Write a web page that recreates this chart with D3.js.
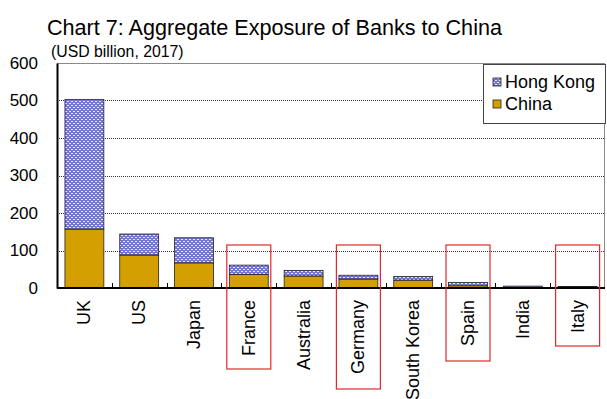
<!DOCTYPE html>
<html>
<head>
<meta charset="utf-8">
<script src="https://cdn.jsdelivr.net/npm/d3@7"></script>
<style>
  body { margin: 0; background: #fff; }
  svg { font-family: "Liberation Sans", Arial, sans-serif; }
</style>
</head>
<body>
<div class="canvas"></div>
<script>
// data
const countries = ["UK", "US", "Japan", "France", "Australia", "Germany", "South Korea", "Spain", "India", "Italy"]
const china = [157, 88, 67, 36, 32, 24, 21, 6, 1, 3]
const hongKong = [346, 56, 67, 25, 15, 10, 10, 9, 4, 1]
const yTicks = [0, 100, 200, 300, 400, 500, 600]
const highlighted = ["France", "Germany", "Spain", "Italy"]

const svg = d3.select(".canvas").append("svg")
    .attr("width", 607)
    .attr("height", 399)

const margin = { top: 63, right: 2, bottom: 111, left: 57 }
const graphWidth = 607 - margin.left - margin.right
const graphHeight = 399 - margin.top - margin.bottom

// hatch pattern for Hong Kong
const pat = svg.append("defs").append("pattern")
    .attr("id", "hk")
    .attr("width", 4)
    .attr("height", 4)
    .attr("patternUnits", "userSpaceOnUse")
pat.append("rect").attr("width", 4).attr("height", 4).attr("fill", "#7276cc")
pat.append("rect").attr("x", 0).attr("y", 0).attr("width", 2).attr("height", 1).attr("fill", "#e6e8ff")
pat.append("rect").attr("x", 2).attr("y", 2).attr("width", 2).attr("height", 1).attr("fill", "#e6e8ff")

const graph = svg.append("g")
    .attr("transform", `translate(${margin.left}, ${margin.top})`)

const x = d3.scaleBand()
    .domain(countries)
    .range([0, graphWidth])
    .paddingInner(0.29)
    .paddingOuter(0.145)
const y = d3.scaleLinear()
    .domain([0, 600])
    .range([graphHeight, 0])

// grid
graph.selectAll(".grid")
    .data(yTicks.filter(d => d > 0 && d < 600))
    .enter()
    .append("line")
    .attr("x1", 0)
    .attr("x2", graphWidth)
    .attr("y1", d => Math.round(y(d)) + 0.5)
    .attr("y2", d => Math.round(y(d)) + 0.5)
    .attr("stroke", "#333")
    .attr("stroke-dasharray", "1,1")

// frame
graph.append("rect")
    .attr("x", 0.5)
    .attr("y", 0.5)
    .attr("width", graphWidth - 1)
    .attr("height", graphHeight)
    .attr("fill", "none")
    .attr("stroke", "#888")

// bars
graph.selectAll(".china")
    .data(countries)
    .enter()
    .append("rect")
    .attr("x", d => x(d))
    .attr("y", (d, i) => y(china[i]))
    .attr("width", x.bandwidth())
    .attr("height", (d, i) => graphHeight - y(china[i]))
    .attr("fill", "#d49f00")
    .attr("stroke", "#222")
    .attr("stroke-width", 0.8)
graph.selectAll(".hk")
    .data(countries)
    .enter()
    .append("rect")
    .attr("x", d => x(d))
    .attr("y", (d, i) => y(china[i] + hongKong[i]))
    .attr("width", x.bandwidth())
    .attr("height", (d, i) => y(china[i]) - y(china[i] + hongKong[i]))
    .attr("fill", "url(#hk)")
    .attr("stroke", "#222")
    .attr("stroke-width", 0.8)

// axes
const yAxis = d3.axisLeft(y).tickValues(yTicks).tickSize(0).tickPadding(19)
const yAxisGroup = graph.append("g").call(yAxis)
yAxisGroup.select(".domain").attr("stroke", "#000").attr("stroke-width", 2)
yAxisGroup.selectAll("text")
    .attr("font-size", 17)
    .attr("font-family", "Liberation Sans, Arial, sans-serif")
    .attr("fill", "#000")

// x axis line and ticks between categories
graph.append("line")
    .attr("x1", 0)
    .attr("x2", graphWidth)
    .attr("y1", graphHeight)
    .attr("y2", graphHeight)
    .attr("stroke", "#000")
    .attr("stroke-width", 2)
graph.selectAll(".tick-x")
    .data(countries.slice(1))
    .enter()
    .append("line")
    .attr("x1", d => Math.round(x(d) - x.step() * x.paddingInner() / 2) + 0.5)
    .attr("x2", d => Math.round(x(d) - x.step() * x.paddingInner() / 2) + 0.5)
    .attr("y1", graphHeight)
    .attr("y2", graphHeight - 5)
    .attr("stroke", "#000")

graph.selectAll(".xlabel")
    .data(countries)
    .enter()
    .append("text")
    .attr("transform", d => `translate(${x(d) + x.bandwidth() / 2 + 6}, ${graphHeight + 12}) rotate(-90)`)
    .attr("text-anchor", "end")
    .attr("font-size", 18)
    .text(d => d)

// red boxes
graph.selectAll(".box")
    .data(highlighted)
    .enter()
    .append("rect")
    .attr("x", d => x(d) + x.bandwidth() / 2 - 22)
    .attr("y", 182)
    .attr("width", 44)
    .attr("height", d => ({ France: 124, Germany: 144, Spain: 116, Italy: 101 })[d])
    .attr("fill", "none")
    .attr("stroke", "#e8262a")
    .attr("stroke-width", 1.2)

// legend
const legend = svg.append("g").attr("transform", "translate(483, 64)")
legend.append("rect")
    .attr("x", 0.5)
    .attr("y", 0.5)
    .attr("width", 122)
    .attr("height", 59)
    .attr("fill", "#fff")
    .attr("stroke", "#444")
const items = [["Hong Kong", "url(#hk)"], ["China", "#d49f00"]]
items.forEach((it, i) => {
    legend.append("rect")
        .attr("x", 10)
        .attr("y", 14 + i * 22)
        .attr("width", 8)
        .attr("height", 8)
        .attr("fill", it[1])
        .attr("stroke", "#222")
        .attr("stroke-width", 0.8)
    legend.append("text")
        .attr("x", 22)
        .attr("y", 24 + i * 22)
        .attr("font-size", 18)
        .text(it[0])
})

// titles
svg.append("text")
    .attr("x", 47)
    .attr("y", 35)
    .attr("font-size", 21.6)
    .text("Chart 7: Aggregate Exposure of Banks to China")
svg.append("text")
    .attr("x", 51)
    .attr("y", 57)
    .attr("font-size", 15.8)
    .text("(USD billion, 2017)")
</script>
</body>
</html>
